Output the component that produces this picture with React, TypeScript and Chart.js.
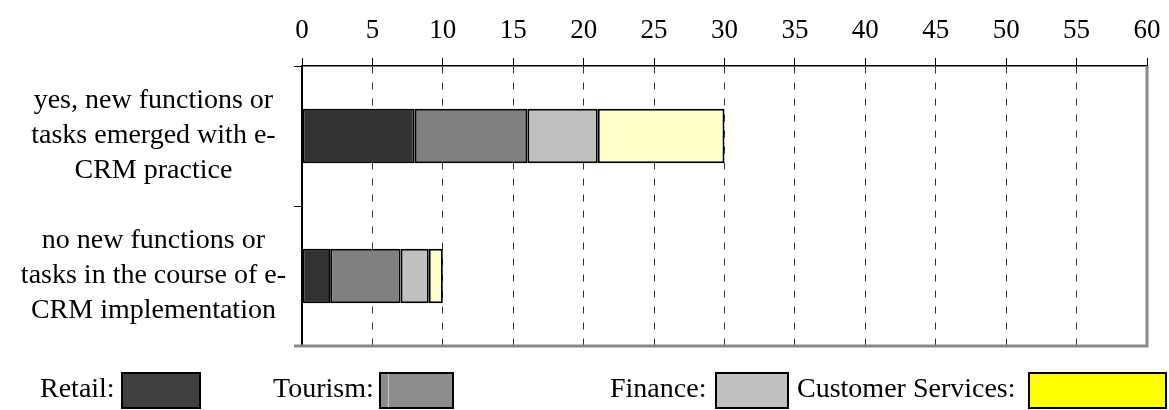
import React, { useEffect, useRef } from 'react';
import { Chart, registerables } from 'chart.js';

Chart.register(...registerables);

const categories = [
  ['yes, new functions or', 'tasks emerged with e-', 'CRM practice'],
  ['no new functions or', 'tasks in the course of e-', 'CRM implementation'],
];
const seriesNames = ['Retail', 'Tourism', 'Finance', 'Customer Services'];
const retail = [8, 2];
const tourism = [8, 5];
const finance = [5, 2];
const customerServices = [9, 1];
const xMin = 0;
const xMax = 60;
const xStep = 5;

const barColors = ['#333333', '#808080', '#c0c0c0', '#ffffcc'];
const legendColors = ['#404040', '#8c8c8c', '#c0c0c0', '#ffff00'];

const FONT = "'Liberation Serif', 'Times New Roman', serif";

const frameBorder = {
  id: 'frameBorder',
  afterDraw(chart: any) {
    const { ctx, chartArea } = chart;
    ctx.save();
    ctx.strokeStyle = '#888888';
    ctx.lineWidth = 3;
    ctx.beginPath();
    ctx.moveTo(chartArea.right, chartArea.top);
    ctx.lineTo(chartArea.right, chartArea.bottom);
    ctx.lineTo(chartArea.left - 8, chartArea.bottom);
    ctx.stroke();
    ctx.restore();
  },
};

const legendLayout = [
  { textLeft: 40, boxLeft: 121, boxWidth: 80 },
  { textLeft: 273, boxLeft: 379, boxWidth: 75 },
  { textLeft: 610, boxLeft: 715, boxWidth: 74 },
  { textLeft: 797, boxLeft: 1028, boxWidth: 139 },
];

export default function App() {
  const canvasRef = useRef<HTMLCanvasElement | null>(null);

  useEffect(() => {
    const canvas = canvasRef.current;
    if (!canvas) return;
    const seriesValues = [retail, tourism, finance, customerServices];
    const chart = new Chart(canvas, {
      type: 'bar',
      data: {
        labels: categories as any,
        datasets: seriesNames.map((name, i) => ({
          label: name,
          data: seriesValues[i],
          backgroundColor: barColors[i],
          borderColor: '#000000',
          borderWidth: 2,
          borderSkipped: false,
          barPercentage: 0.39,
          categoryPercentage: 1,
        })),
      },
      options: {
        indexAxis: 'y',
        responsive: false,
        animation: false,
        layout: { padding: { left: 0, right: 22, top: 0, bottom: 64 } },
        plugins: {
          legend: { display: false },
          tooltip: { enabled: false },
        },
        scales: {
          x: {
            type: 'linear',
            position: 'top',
            stacked: true,
            min: xMin,
            max: xMax,
            afterFit(scale: any) {
              scale.height = 66;
              scale.paddingLeft = 0;
              scale.paddingRight = 0;
            },
            ticks: {
              stepSize: xStep,
              color: '#000000',
              padding: 11,
              font: { family: FONT, size: 27 },
            },
            grid: {
              color: '#333333',
              lineWidth: 1,
              tickLength: 8,
              tickColor: '#000000',
              tickBorderDash: [],
            },
            border: { color: '#000000', width: 1.5, dash: [7, 9] },
          },
          y: {
            type: 'category',
            position: 'left',
            stacked: true,
            offset: true,
            afterFit(scale: any) {
              scale.width = 302;
            },
            ticks: {
              color: '#000000',
              padding: 8,
              crossAlign: 'center',
              font: { family: FONT, size: 28, lineHeight: 1.25 },
            },
            grid: {
              offset: true,
              drawOnChartArea: false,
              drawTicks: true,
              tickLength: 8,
              color: '#000000',
              lineWidth: 1,
            },
            border: { color: '#000000', width: 2 },
          },
        },
      },
      plugins: [frameBorder],
    });
    return () => chart.destroy();
  }, []);

  return (
    <div style={{ position: 'absolute', left: 0, top: 0, width: 1169, height: 410, background: '#fff', overflow: 'hidden' }}>
      <canvas ref={canvasRef} width={1169} height={410} style={{ width: 1169, height: 410, display: 'block' }} />
      {seriesNames.map((name, i) => (
        <React.Fragment key={name}>
          <div
            style={{
              position: 'absolute',
              left: legendLayout[i].textLeft,
              top: 374,
              font: `28px ${FONT}`,
              lineHeight: '28px',
              color: '#000',
              whiteSpace: 'nowrap',
            }}
          >
            {name + ':'}
          </div>
          <div
            style={{
              position: 'absolute',
              left: legendLayout[i].boxLeft,
              top: 372,
              width: legendLayout[i].boxWidth,
              height: 37,
              boxSizing: 'border-box',
              border: '2px solid #000',
              background:
                i === 1
                  ? `linear-gradient(to right, ${legendColors[i]} 7px, #c8c8c8 7px, #c8c8c8 8px, ${legendColors[i]} 8px)`
                  : legendColors[i],
            }}
          />
        </React.Fragment>
      ))}
    </div>
  );
}
